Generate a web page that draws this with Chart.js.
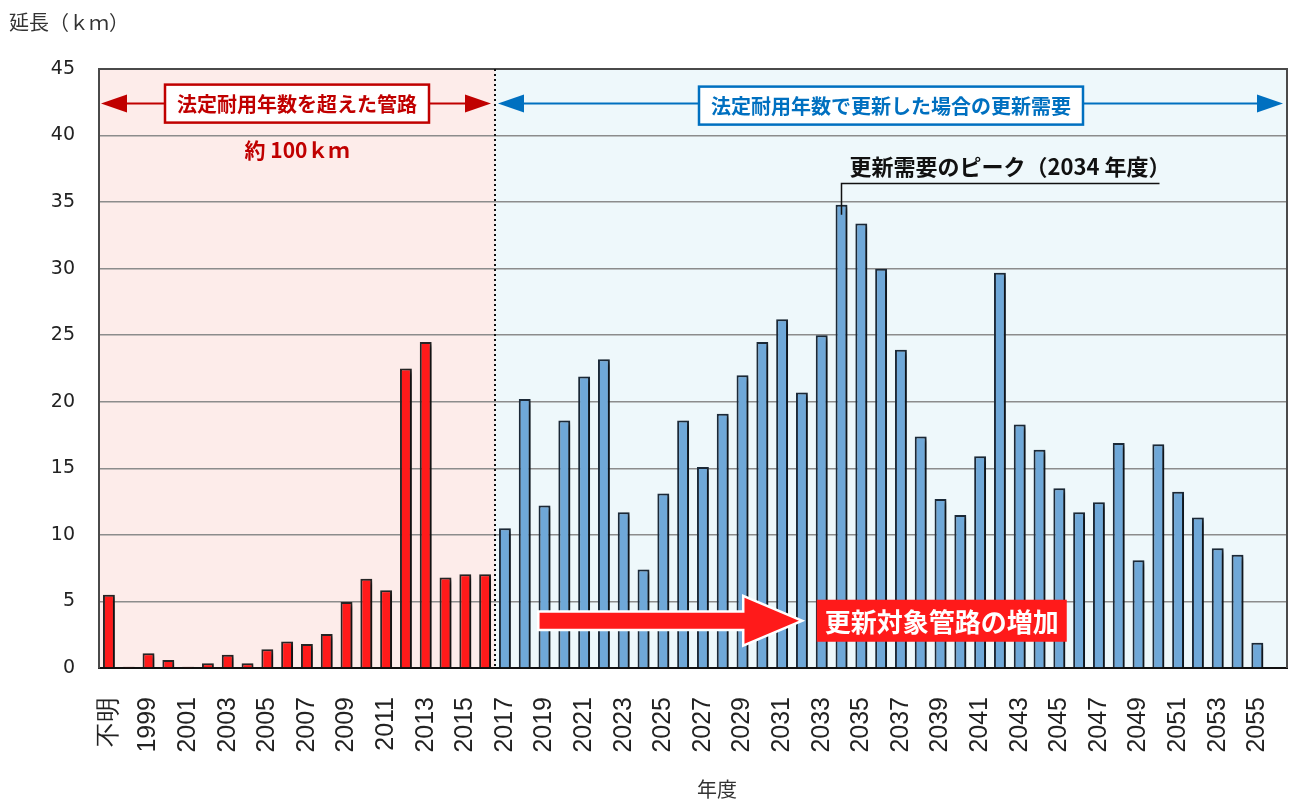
<!DOCTYPE html>
<html>
<head>
<meta charset="utf-8">
<title>管路の更新需要</title>
<script src="https://cdn.jsdelivr.net/npm/chart.js"></script>
<style>
  html, body { margin: 0; padding: 0; background: #fff; }
  #wrap { width: 1292px; height: 804px; position: relative; }
</style>
</head>
<body>
<div id="wrap"><canvas id="pipeChart" width="1292" height="804"></canvas></div>
<script>
// 年度（不明 + 1998〜2055）
const categories = [
  '不明', '1998', '1999', '2000', '2001', '2002', '2003', '2004', '2005', '2006',
  '2007', '2008', '2009', '2010', '2011', '2012', '2013', '2014', '2015', '2016',
  '2017', '2018', '2019', '2020', '2021', '2022', '2023', '2024', '2025', '2026',
  '2027', '2028', '2029', '2030', '2031', '2032', '2033', '2034', '2035', '2036',
  '2037', '2038', '2039', '2040', '2041', '2042', '2043', '2044', '2045', '2046',
  '2047', '2048', '2049', '2050', '2051', '2052', '2053', '2054', '2055'
];

// 法定耐用年数を超えた管路（不明〜2016）km
const exceededKm = [
  5.5, 0.1, 1.1, 0.6, 0.1, 0.35, 1.0, 0.35, 1.4, 2.0,
  1.8, 2.55, 4.95, 6.7, 5.85, 22.5, 24.5, 6.8, 7.05, 7.05
];

// 法定耐用年数で更新した場合の更新需要（2017〜2055）km
const renewalKm = [
  10.5, 20.2, 12.2, 18.6, 21.9, 23.2, 11.7, 7.4, 13.1, 18.6,
  15.1, 19.1, 22.0, 24.5, 26.2, 20.7, 25.0, 34.8, 33.4, 30.0,
  23.9, 17.4, 12.7, 11.5, 15.9, 29.7, 18.3, 16.4, 13.5, 11.7,
  12.45, 16.9, 8.1, 16.8, 13.25, 11.3, 9.0, 8.5, 1.9
];

const yTicks = [0, 5, 10, 15, 20, 25, 30, 35, 40, 45];
const peakYear = '2034';

const JP = '"Noto Sans CJK JP", "Noto Sans", sans-serif';

// one empty slot after 2055 keeps some room on the right
const labels = categories.concat(['']);
const nPast = exceededKm.length;
const pastData = exceededKm.concat(new Array(labels.length - nPast).fill(null));
const futureData = new Array(nPast).fill(null).concat(renewalKm, [null]);

// split point between the two periods
const splitIndex = nPast - 0.5;

const shadowPlugin = {
  id: 'barShadow',
  beforeDatasetsDraw(chart) {
    const c = chart.ctx;
    c.save();
    c.shadowColor = 'rgba(0,0,0,0.55)';
    c.shadowOffsetX = 4;
    c.shadowOffsetY = 2;
    c.shadowBlur = 4;
  },
  afterDatasetsDraw(chart) {
    chart.ctx.restore();
  }
};

const backdropPlugin = {
  id: 'backdrop',
  beforeDraw(chart) {
    const { ctx, chartArea: a, scales: { x } } = chart;
    const sx = x.getPixelForValue(splitIndex);
    ctx.save();
    ctx.fillStyle = '#fdecea';
    ctx.fillRect(a.left, a.top, sx - a.left, a.bottom - a.top);
    ctx.fillStyle = '#eef8fb';
    ctx.fillRect(sx, a.top, a.right - sx, a.bottom - a.top);
    ctx.restore();
  }
};

function arrowHead(ctx, tipX, y, dir, len, half) {
  ctx.beginPath();
  ctx.moveTo(tipX, y);
  ctx.lineTo(tipX - dir * len, y - half);
  ctx.lineTo(tipX - dir * len, y + half);
  ctx.closePath();
  ctx.fill();
}

function spanArrow(ctx, x0, x1, y, color) {
  ctx.strokeStyle = color;
  ctx.fillStyle = color;
  ctx.lineWidth = 2;
  ctx.beginPath();
  ctx.moveTo(x0 + 20, y);
  ctx.lineTo(x1 - 20, y);
  ctx.stroke();
  arrowHead(ctx, x0, y, -1, 26, 9);
  arrowHead(ctx, x1, y, 1, 26, 9);
}

function labelBox(ctx, cx, cy, text, color, font) {
  ctx.font = font;
  const w = ctx.measureText(text).width + 24;
  const h = 38;
  ctx.fillStyle = '#fff';
  ctx.fillRect(cx - w / 2, cy - h / 2, w, h);
  ctx.strokeStyle = color;
  ctx.lineWidth = 2.5;
  ctx.strokeRect(cx - w / 2, cy - h / 2, w, h);
  ctx.fillStyle = color;
  ctx.textAlign = 'center';
  ctx.textBaseline = 'middle';
  ctx.fillText(text, cx, cy + 1);
}

const notesPlugin = {
  id: 'notes',
  afterDatasetsDraw(chart) {
    const { ctx, chartArea: a, scales: { x, y } } = chart;
    const sx = x.getPixelForValue(splitIndex);
    ctx.save();

    // frame on top/right
    ctx.strokeStyle = '#4a4a4a';
    ctx.lineWidth = 2;
    ctx.beginPath();
    ctx.moveTo(a.left, a.top);
    ctx.lineTo(a.right, a.top);
    ctx.lineTo(a.right, a.bottom);
    ctx.stroke();

    // dotted divider
    ctx.strokeStyle = '#111';
    ctx.lineWidth = 2;
    ctx.setLineDash([2, 3]);
    ctx.beginPath();
    ctx.moveTo(sx, a.top);
    ctx.lineTo(sx, a.bottom);
    ctx.stroke();
    ctx.setLineDash([]);

    // period arrows with captions
    const ay = y.getPixelForValue(42.4);
    spanArrow(ctx, a.left + 2, sx - 4, ay, '#c00000');
    spanArrow(ctx, sx + 3, a.right - 4, ay, '#0070c0');
    const boxFont = 'bold 20px ' + JP;
    labelBox(ctx, (a.left + sx) / 2, ay, '法定耐用年数を超えた管路', '#c00000', boxFont);
    labelBox(ctx, (sx + a.right) / 2, ay + 2, '法定耐用年数で更新した場合の更新需要', '#0070c0', boxFont);

    ctx.fillStyle = '#c00000';
    ctx.font = 'bold 21px ' + JP;
    ctx.textAlign = 'center';
    ctx.textBaseline = 'middle';
    ctx.fillText('約 100ｋｍ', (a.left + sx) / 2, y.getPixelForValue(38.9));

    // peak leader
    const pi = categories.indexOf(peakYear);
    const px = x.getPixelForValue(pi);
    const lineY = y.getPixelForValue(36.4);
    ctx.strokeStyle = '#111';
    ctx.lineWidth = 1.5;
    ctx.beginPath();
    ctx.moveTo(px, y.getPixelForValue(renewalKm[pi - nPast]) + 10);
    ctx.lineTo(px, lineY);
    ctx.lineTo(px + 318, lineY);
    ctx.stroke();
    ctx.fillStyle = '#111';
    ctx.font = 'bold 22px ' + JP;
    ctx.textAlign = 'left';
    ctx.textBaseline = 'alphabetic';
    ctx.fillText('更新需要のピーク（2034 年度）', px + 8, lineY - 8);

    // big arrow: growth of pipes due for renewal
    const cy = y.getPixelForValue(3.55);
    const tail = x.getPixelForValue(21.75);
    const neck = x.getPixelForValue(32.1);
    const tip = x.getPixelForValue(34.85);
    ctx.beginPath();
    ctx.moveTo(tail, cy - 8);
    ctx.lineTo(neck, cy - 8);
    ctx.lineTo(neck, cy - 23);
    ctx.lineTo(tip, cy);
    ctx.lineTo(neck, cy + 23);
    ctx.lineTo(neck, cy + 8);
    ctx.lineTo(tail, cy + 8);
    ctx.closePath();
    ctx.strokeStyle = '#fff';
    ctx.lineWidth = 5;
    ctx.lineJoin = 'miter';
    ctx.stroke();
    ctx.fillStyle = '#ff1a1a';
    ctx.fill();

    const tag = '更新対象管路の増加';
    ctx.font = 'bold 26px ' + JP;
    const tw = ctx.measureText(tag).width + 16;
    const tx = x.getPixelForValue(35.75);
    ctx.fillStyle = '#ff1a1a';
    ctx.fillRect(tx, cy - 21, tw, 42);
    ctx.fillStyle = '#fff';
    ctx.textAlign = 'left';
    ctx.textBaseline = 'middle';
    ctx.fillText(tag, tx + 8, cy + 1);

    ctx.restore();
  },
  afterDraw(chart) {
    const { ctx } = chart;
    ctx.save();
    ctx.fillStyle = '#333';
    ctx.font = '20px ' + JP;
    ctx.textAlign = 'left';
    ctx.textBaseline = 'middle';
    ctx.fillText('延長（ｋｍ）', 9, 22);
    ctx.textAlign = 'center';
    ctx.font = '20px ' + JP;
    ctx.fillText('年度', 717, 789);
    ctx.restore();
  }
};

const ctx = document.getElementById('pipeChart').getContext('2d');
const pipeChart = new Chart(ctx, {
  type: 'bar',
  data: {
    labels: labels,
    datasets: [
      {
        label: '法定耐用年数を超えた管路',
        data: pastData,
        backgroundColor: '#ff1a1a',
        borderColor: '#262626',
        borderWidth: 2,
        barPercentage: 0.6,
        categoryPercentage: 1
      },
      {
        label: '更新需要',
        data: futureData,
        backgroundColor: '#6fa8d8',
        borderColor: '#1c2a38',
        borderWidth: 2,
        barPercentage: 0.6,
        categoryPercentage: 1
      }
    ]
  },
  options: {
    responsive: false,
    animation: false,
    layout: { padding: { top: 69, right: 5, left: 0, bottom: 0 } },
    plugins: {
      legend: { display: false },
      tooltip: { enabled: false }
    },
    scales: {
      x: {
        stacked: true,
        grid: { display: false, drawTicks: false },
        border: { color: '#111', width: 2 },
        afterFit(scale) {
          scale.height = 136;
          scale.paddingLeft = 0;
          scale.paddingRight = 0;
        },
        ticks: {
          autoSkip: false,
          maxRotation: 90,
          minRotation: 90,
          padding: 29,
          color: '#222',
          font: { family: '"Liberation Sans", Arial, sans-serif', size: 25 },
          callback(value, index) {
            return index % 2 === 0 ? this.getLabelForValue(value) : '';
          }
        }
      },
      y: {
        min: 0,
        max: 45,
        afterFit(scale) { scale.width = 99; },
        afterBuildTicks(scale) { scale.ticks = yTicks.map(v => ({ value: v })); },
        grid: { color: '#8c8c8c', lineWidth: 1.5, drawTicks: false },
        border: { color: '#4a4a4a', width: 2 },
        ticks: {
          padding: 24,
          color: '#222',
          font: { family: '"DejaVu Sans", Verdana, sans-serif', size: 19 }
        }
      }
    }
  },
  plugins: [backdropPlugin, shadowPlugin, notesPlugin]
});
</script>
</body>
</html>
